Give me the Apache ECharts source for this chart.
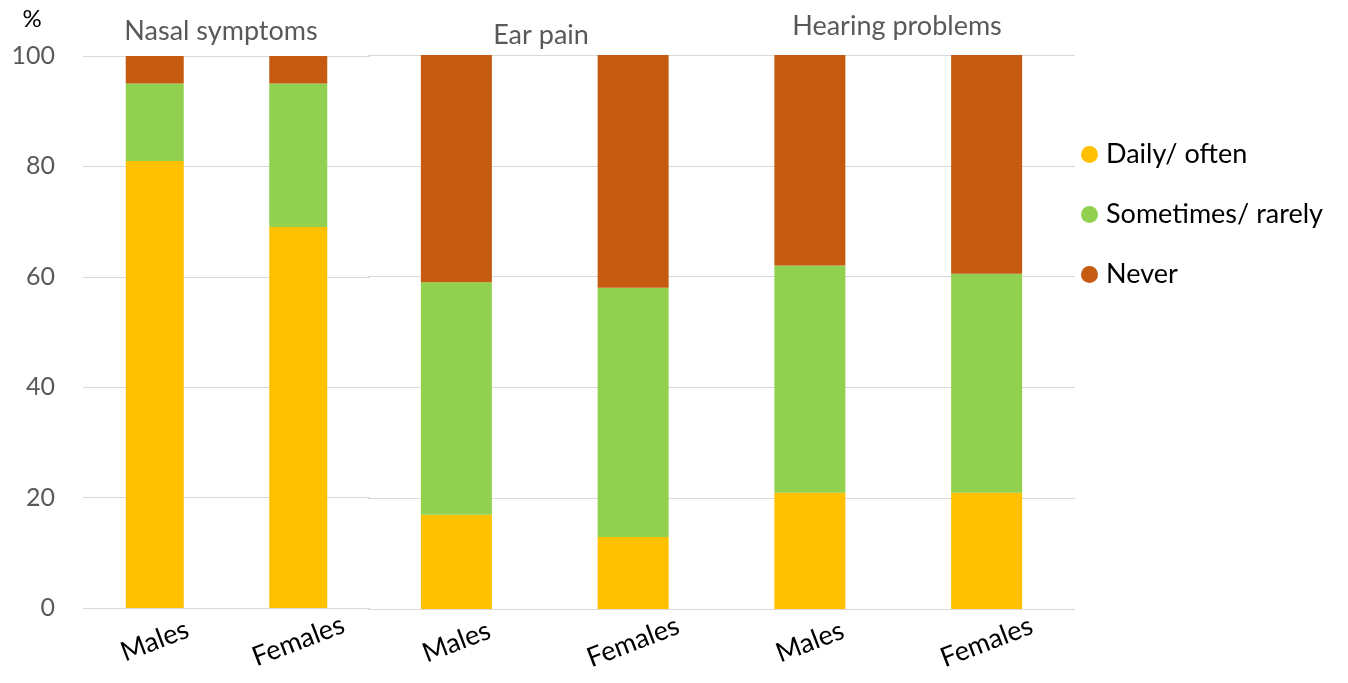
<!DOCTYPE html>
<html>
<head>
<meta charset="utf-8">
<script src="https://cdn.jsdelivr.net/npm/echarts@6/dist/echarts.min.js"></script>
<style>
html,body{margin:0;padding:0;background:#fff;}
#chart{width:1348px;height:683px;}
</style>
</head>
<body>
<div id="chart"></div>
<script>
const groupTitles = ['Nasal symptoms', 'Ear pain', 'Hearing problems'];
const seriesNames = ['Daily/ often', 'Sometimes/ rarely', 'Never'];
const nasalCats = ['Males', 'Females'];
const earHearCats = ['Males', 'Females', 'Males', 'Females'];
const nasalDaily = [81, 69];
const nasalSometimes = [14, 26];
const nasalNever = [5, 5];
const earHearDaily = [17, 13, 21, 21];
const earHearSometimes = [42, 45, 41, 39.5];
const earHearNever = [41, 42, 38, 39.5];
const yTicks = [0, 20, 40, 60, 80, 100];

const colors = ['#FFC000', '#92D050', '#C55A11'];
const FONT = 'Lato, "Open Sans", sans-serif';
const chart = echarts.init(document.getElementById('chart'), null, {renderer: 'canvas'});

const xLabel = {
  rotate: 21, align: 'center', verticalAlign: 'middle', margin: 33,
  fontSize: 27, color: '#000', fontFamily: FONT, interval: 0
};
const splitLine = {show: true, lineStyle: {color: '#d9d9d9', width: 1}};

const leftSeries = [nasalDaily, nasalSometimes, nasalNever].map((d, i) => ({
  name: seriesNames[i], type: 'bar', stack: 'nasal', xAxisIndex: 0, yAxisIndex: 0,
  barWidth: 58, data: d, itemStyle: {color: colors[i]}
}));
const rightSeries = [earHearDaily, earHearSometimes, earHearNever].map((d, i) => ({
  name: seriesNames[i], type: 'bar', stack: 'earhear', xAxisIndex: 1, yAxisIndex: 1,
  barWidth: 71, data: d, itemStyle: {color: colors[i]}
}));

chart.setOption({
  animation: false,
  textStyle: {fontFamily: FONT},
  grid: [
    {left: 83, width: 287, top: 56, height: 552},
    {left: 368, width: 707, top: 55, height: 554}
  ],
  xAxis: [
    {type: 'category', gridIndex: 0, data: nasalCats, axisLine: {show: false}, axisTick: {show: false}, axisLabel: xLabel},
    {type: 'category', gridIndex: 1, data: earHearCats, axisLine: {show: false}, axisTick: {show: false}, axisLabel: xLabel}
  ],
  yAxis: [
    {type: 'value', gridIndex: 0, min: yTicks[0], max: yTicks[yTicks.length - 1], interval: 20,
      axisLine: {show: false}, axisTick: {show: false}, splitLine: splitLine,
      axisLabel: {fontSize: 25, color: '#595959', margin: 28, fontFamily: FONT}},
    {type: 'value', gridIndex: 1, min: yTicks[0], max: yTicks[yTicks.length - 1], interval: 20,
      axisLine: {show: false}, axisTick: {show: false}, splitLine: splitLine,
      axisLabel: {show: false}}
  ],
  legend: {
    data: seriesNames, orient: 'vertical', left: 1076, top: 136,
    icon: 'circle', itemWidth: 17, itemHeight: 17, itemGap: 33,
    textStyle: {fontSize: 27, color: '#000', fontFamily: FONT, padding: [0, 0, 0, 3]}
  },
  graphic: [
    {type: 'text', x: 221, y: 31, style: {text: groupTitles[0], font: '27px ' + FONT, fill: '#595959', textAlign: 'center', textVerticalAlign: 'middle'}},
    {type: 'text', x: 541, y: 35, style: {text: groupTitles[1], font: '27px ' + FONT, fill: '#595959', textAlign: 'center', textVerticalAlign: 'middle'}},
    {type: 'text', x: 897, y: 26, style: {text: groupTitles[2], font: '27px ' + FONT, fill: '#595959', textAlign: 'center', textVerticalAlign: 'middle'}},
    {type: 'text', x: 32, y: 19, style: {text: '%', font: '24px ' + FONT, fill: '#000', textAlign: 'center', textVerticalAlign: 'middle'}}
  ],
  series: leftSeries.concat(rightSeries)
});
</script>
</body>
</html>
